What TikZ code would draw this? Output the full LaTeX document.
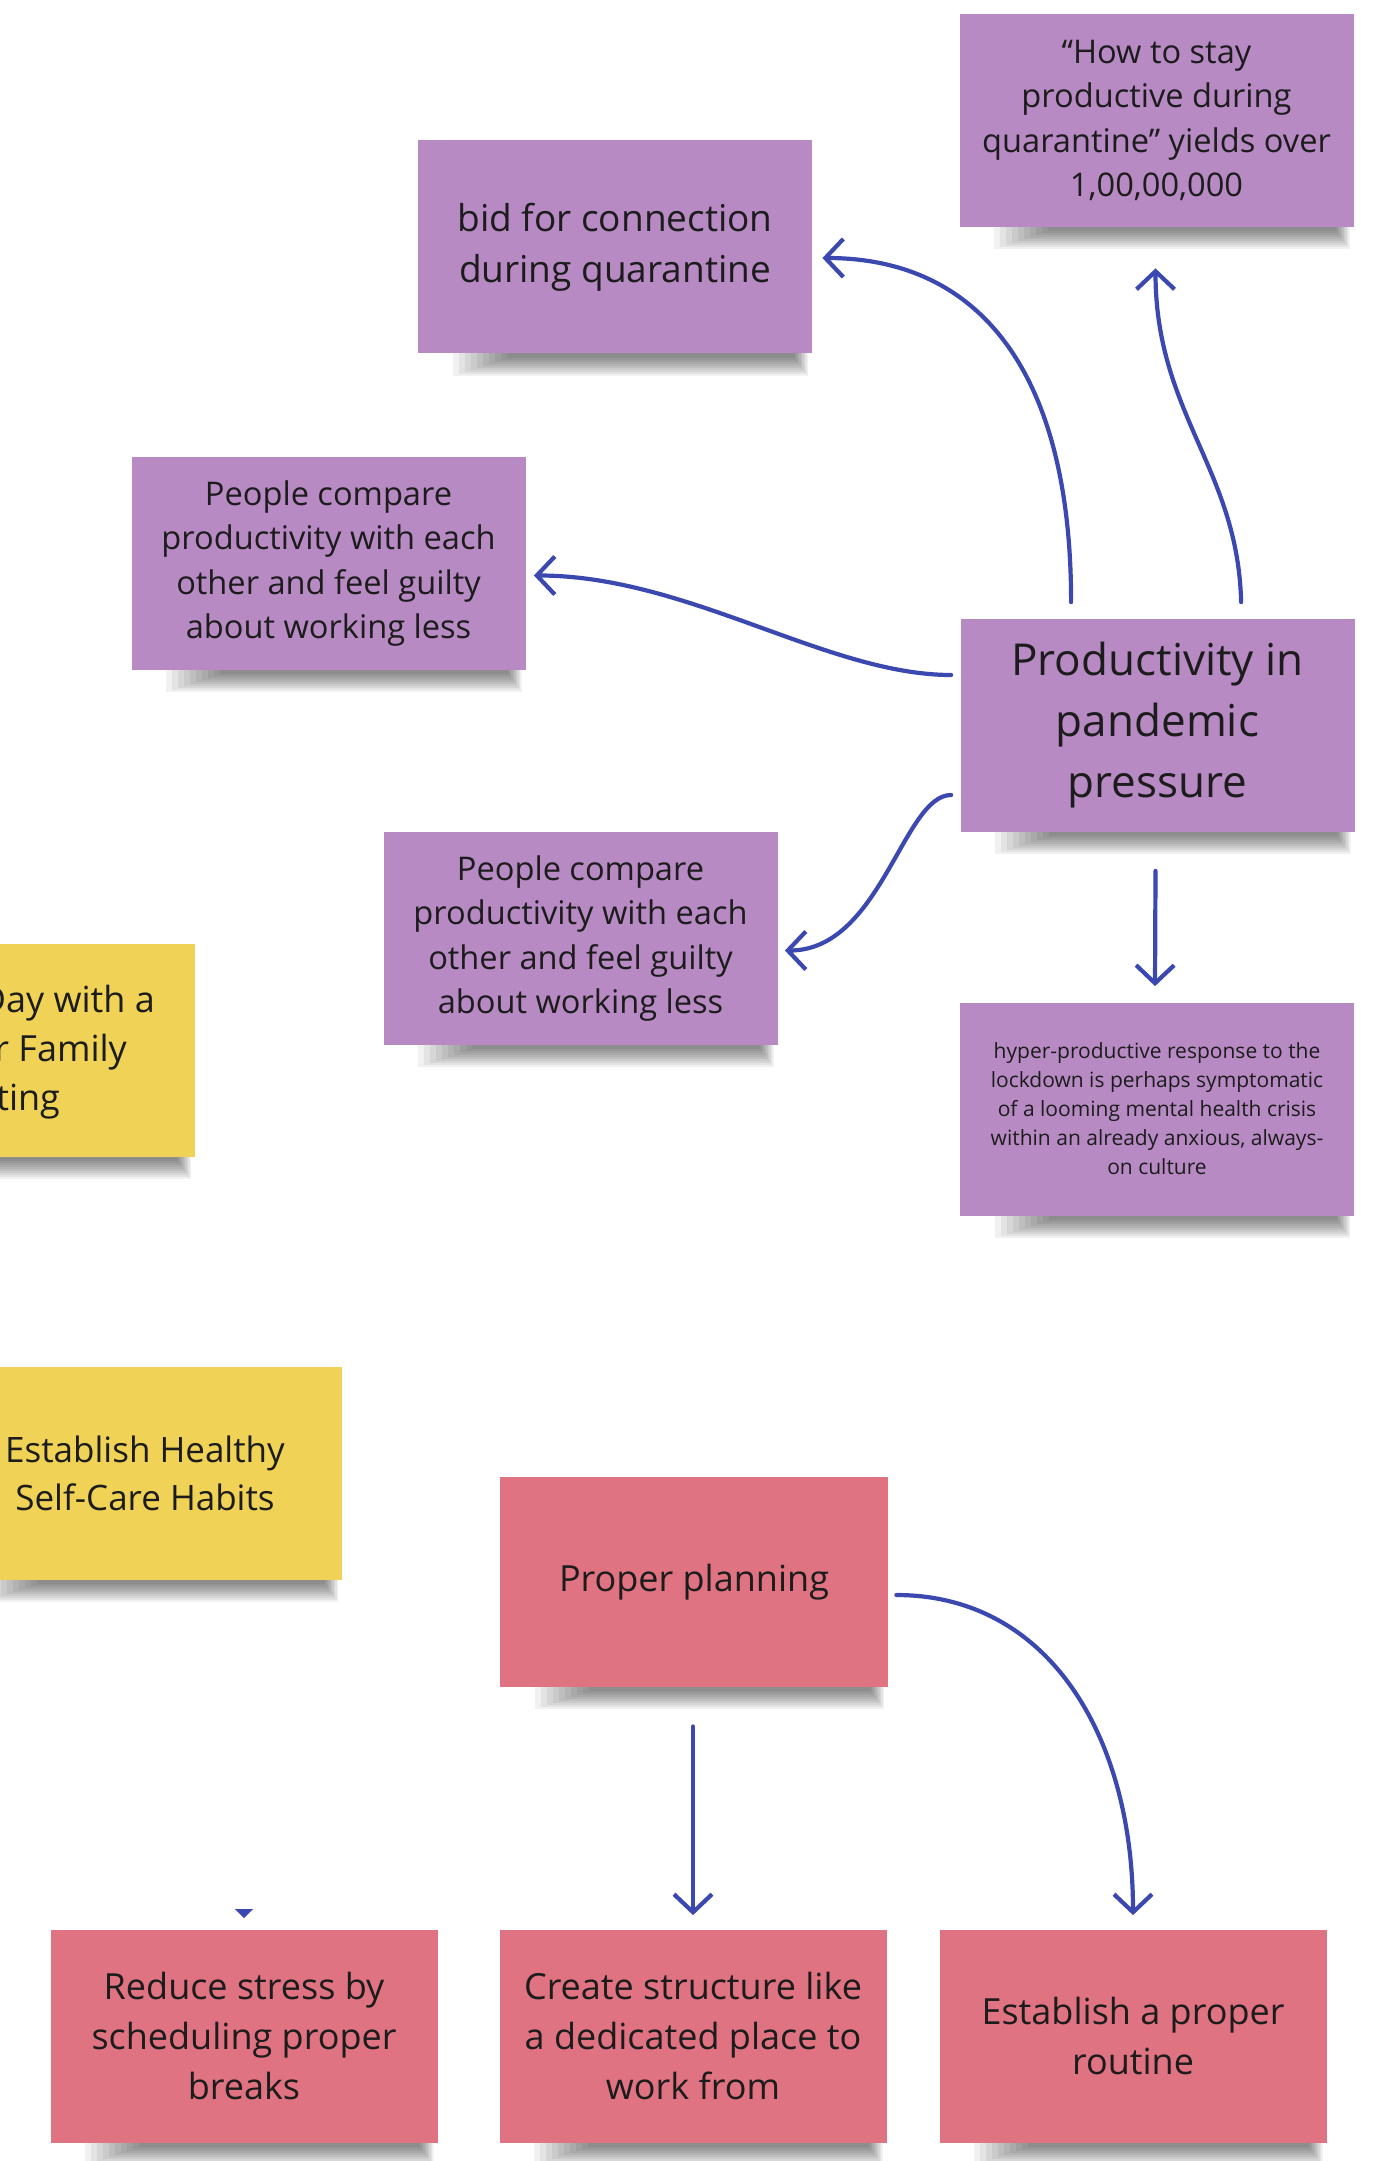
\documentclass[tikz,border=0pt]{standalone}
\usepackage{fontspec}
\setmainfont{Open Sans}
\usetikzlibrary{arrows.meta,calc}

\definecolor{notepurple}{HTML}{B78AC3}
\definecolor{notepink}{HTML}{E07381}
\definecolor{noteyellow}{HTML}{EFD256}
\definecolor{linkblue}{HTML}{3A48B0}
\definecolor{ink}{HTML}{1C1C1C}

\pgfdeclarelayer{paper}
\pgfdeclarelayer{castlayer}
\pgfsetlayers{paper,castlayer,main}

\tikzset{
  note/.style={rectangle, inner sep=0pt, align=center, text=ink,
    minimum width=197pt, minimum height=106.5pt},
  purplenote/.style={note, fill=notepurple},
  pinknote/.style={note, fill=notepink},
  yellownote/.style={note, fill=noteyellow},
  notecast/.style={fill=black, fill opacity=0.055},
  link/.style={draw=linkblue, line width=2.1pt, line cap=round,
    -{Straight Barb[length=9pt,width=19pt,line width=2.1pt]}},
  fsA/.style={font=\fontsize{16.3pt}{22.3pt}\selectfont},
  fsB/.style={font=\fontsize{18.5pt}{25.5pt}\selectfont},
  fsC/.style={font=\fontsize{22pt}{30.3pt}\selectfont},
  fsD/.style={font=\fontsize{10.5pt}{14.5pt}\selectfont},
  fsE/.style={font=\fontsize{18pt}{24.8pt}\selectfont},
}

\begin{document}
\begin{tikzpicture}[x=0.5pt,y=-0.5pt]
\useasboundingbox (0,0) rectangle (1384,2161);
\begin{pgfonlayer}{paper}
  \fill[white] (0,0) rectangle (1384,2161);
\end{pgfonlayer}

% purple notes: the pandemic-pressure cluster
\node[purplenote, fsA] (howto) at (1156.5,120.5)
  {“How to stay\\productive during\\quarantine” yields over\\1,00,00,000};
\node[purplenote, fsB] (bid) at (615,247)
  {bid for connection\\during quarantine};
\node[purplenote, fsA] (compareA) at (328.5,563.5)
  {People compare\\productivity with each\\other and feel guilty\\about working less};
\node[purplenote, fsC] (prod) at (1157.5,725)
  {Productivity in\\pandemic\\pressure};
\node[purplenote, fsA] (compareB) at (580.5,938.5)
  {People compare\\productivity with each\\other and feel guilty\\about working less};
\node[purplenote, fsD] (hyper) at (1157,1109)
  {hyper-productive response to the\\lockdown is perhaps symptomatic\\of a looming mental health crisis\\within an already anxious, always-\\on culture};

% yellow notes at the left border
\node[yellownote] (meet) at (-2,1050.5) {};
\node[fsE, text=ink, anchor=base east] (meetA) at (162,1012) {Day with a};
\node[fsE, text=ink, anchor=base east] (meetB) at (134,1061) {or Family};
\node[fsE, text=ink, anchor=base east] (meetC) at (67,1110) {eting};
\node[yellownote, fsE, font=\fontsize{17.5pt}{24pt}\selectfont] (selfcare) at (145,1473)
  {Establish Healthy\\Self-Care Habits};

% pink notes: planning branch
\node[pinknote, fsE, minimum width=194pt, minimum height=105pt] (plan) at (694,1582)
  {Proper planning};
\node[pinknote, fsE, minimum width=193.5pt] (breaks) at (244,2036)
  {Reduce stress by\\scheduling proper\\breaks};
\node[pinknote, fsE, minimum width=193.5pt] (place) at (693,2036)
  {Create structure like\\a dedicated place to\\work from};
\node[pinknote, fsE, minimum width=193.5pt] (routine) at (1133,2036)
  {Establish a proper\\routine};

% soft cast shadows under every note, built from stacked translucent bands
\begin{pgfonlayer}{castlayer}
  \foreach \n in {howto,bid,compareA,prod,compareB,hyper,meet,selfcare,plan,breaks,place,routine}{
    \foreach \k in {0,...,9}{
      \path[notecast] ($(\n.south west)+(35+6*\k,-10)$) rectangle ($(\n.south east)+(-4-1.5*\k,22-2*\k)$);
    }
  }
\end{pgfonlayer}

% connectors from the central note
\draw[link] ($(prod.north west)+(111,-16)$) .. controls +(0,-230) and ($(bid.east)+(167,11)$) .. ($(bid.east)+(10,11)$);
\draw[link] ($(prod.north west)+(281,-16)$) .. controls +(-3,-133) and ($(howto.south)+(-1,186)$) .. ($(howto.south)+(-1,41)$);
\draw[link] ($(prod.west)+(-9,-50)$) .. controls +(-124,0) and ($(compareA.east)+(162,12)$) .. ($(compareA.east)+(8,12)$);
\draw[link] ($(prod.west)+(-9,70)$) .. controls +(-48,0) and ($(compareB.east)+(103,12)$) .. ($(compareB.east)+(7,12)$);
\draw[link] ($(prod.south)+(-2,39)$) -- ($(hyper.north)+(-2,-16)$);

% connectors from the planning note
\draw[link] ($(plan.south)+(-1,39)$) -- ($(place.north)+(0,-14)$);
\draw[link] ($(plan.east)+(8,13)$) .. controls +(152,0) and ($(routine.north)+(0,-193)$) .. ($(routine.north)+(0,-14)$);

% small stray arrow tip above the breaks note
\fill[linkblue] (235,1909) -- (253,1909) -- (244,1918) -- cycle;
\end{tikzpicture}
\end{document}
